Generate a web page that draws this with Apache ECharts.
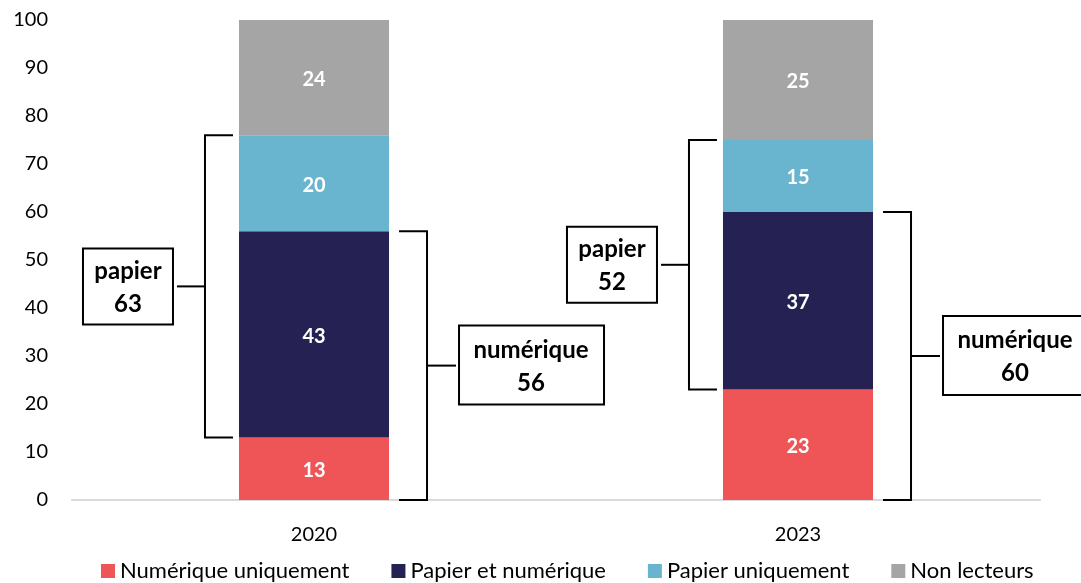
<!DOCTYPE html>
<html>
<head>
<meta charset="utf-8">
<script src="https://cdn.jsdelivr.net/npm/echarts@6/dist/echarts.min.js"></script>
<style>
html,body{margin:0;padding:0;background:#fff;}
#chart{width:1081px;height:583px;}
</style>
</head>
<body>
<div id="chart"></div>
<script>
var years=['2020','2023'];
var numUniq=[13,23];//Numérique uniquement
var papNum=[43,37];//Papier et numérique
var papUniq=[20,15];//Papier uniquement
var nonLect=[24,25];//Non lecteurs
var yTicks=[0,10,20,30,40,50,60,70,80,90,100];

var FONT='Lato';
var colors=['#EF5557','#252253','#69B4CF','#A5A5A5'];
var myChart=echarts.init(document.getElementById('chart'));

function mkSeries(name,data,color){
	return {
		name:name,type:'bar',stack:'total',data:data,barWidth:'31%',
		itemStyle:{color:color},
		label:{show:true,position:'inside',color:'#fff',fontWeight:'bold',fontSize:20,fontFamily:FONT,offset:[0,2]},
		emphasis:{disabled:true}
	};
}

myChart.setOption({
	animation:false,
	grid:{left:72,right:41,top:20,bottom:83},
	legend:{
		bottom:-4,left:96,itemWidth:14,itemHeight:14,itemGap:42,icon:'rect',
		textStyle:{fontFamily:FONT,fontSize:22,color:'#000'}
	},
	xAxis:{
		type:'category',data:years,
		axisLine:{lineStyle:{color:'#D9D9D9',width:2}},
		axisTick:{show:false},
		axisLabel:{fontFamily:FONT,fontSize:20,color:'#000',margin:25}
	},
	yAxis:{
		type:'value',min:0,max:100,interval:10,
		splitLine:{show:false},
		axisLabel:{fontFamily:FONT,fontSize:20,color:'#000',margin:24,
			formatter:function(v){return yTicks.indexOf(v)>=0?String(v):'';}}
	},
	series:[
		mkSeries('Numérique uniquement',numUniq,colors[0]),
		mkSeries('Papier et numérique',papNum,colors[1]),
		mkSeries('Papier uniquement',papUniq,colors[2]),
		mkSeries('Non lecteurs',nonLect,colors[3])
	]
});

//accolades "papier" (gauche) et "numérique" (droite)
function drawBrackets(){
	var els=[];
	var p0=myChart.convertToPixel({seriesIndex:0},[0,0]);
	var p1=myChart.convertToPixel({seriesIndex:0},[1,0]);
	var halfBar=(p1[0]-p0[0])*0.31/2;
	var line={stroke:'#000',lineWidth:2,fill:null};
	var txt={align:'center',verticalAlign:'middle',fontFamily:FONT,fontWeight:'bold',fontSize:24,lineHeight:33,fill:'#000'};
	for(var i=0;i<years.length;i++){
		var cx=myChart.convertToPixel({seriesIndex:0},[i,0])[0];
		//papier
		var yTop=myChart.convertToPixel({seriesIndex:0},[i,numUniq[i]+papNum[i]+papUniq[i]])[1];
		var yBot=myChart.convertToPixel({seriesIndex:0},[i,numUniq[i]])[1];
		var bl=cx-halfBar;
		var vx=bl-34,ym=(yTop+yBot)/2;
		els.push({type:'polyline',z:100,shape:{points:[[bl-6,yTop],[vx,yTop],[vx,yBot],[bl-6,yBot]]},style:line});
		els.push({type:'line',z:100,shape:{x1:vx,y1:ym,x2:vx-28,y2:ym},style:line});
		els.push({type:'rect',z:100,shape:{x:vx-122,y:ym-38,width:90,height:76},style:{stroke:'#000',lineWidth:2,fill:'#fff'}});
		els.push({type:'text',z:101,x:vx-77,y:ym+1,style:echarts.util.extend({text:'papier\n'+(papNum[i]+papUniq[i])},txt)});
		//numérique
		var yTop2=myChart.convertToPixel({seriesIndex:0},[i,numUniq[i]+papNum[i]])[1];
		var yBot2=myChart.convertToPixel({seriesIndex:0},[i,0])[1];
		var br=cx+halfBar;
		var vx2=br+38,ym2=(yTop2+yBot2)/2;
		els.push({type:'polyline',z:100,shape:{points:[[br+10,yTop2],[vx2,yTop2],[vx2,yBot2],[br+10,yBot2]]},style:line});
		els.push({type:'line',z:100,shape:{x1:vx2,y1:ym2,x2:vx2+29,y2:ym2},style:line});
		els.push({type:'rect',z:100,shape:{x:vx2+32,y:ym2-40,width:145,height:79},style:{stroke:'#000',lineWidth:2,fill:'#fff'}});
		els.push({type:'text',z:101,x:vx2+104,y:ym2+1,style:echarts.util.extend({text:'numérique\n'+(numUniq[i]+papNum[i])},txt)});
	}
	myChart.setOption({graphic:els});
}
drawBrackets();
</script>
</body>
</html>
